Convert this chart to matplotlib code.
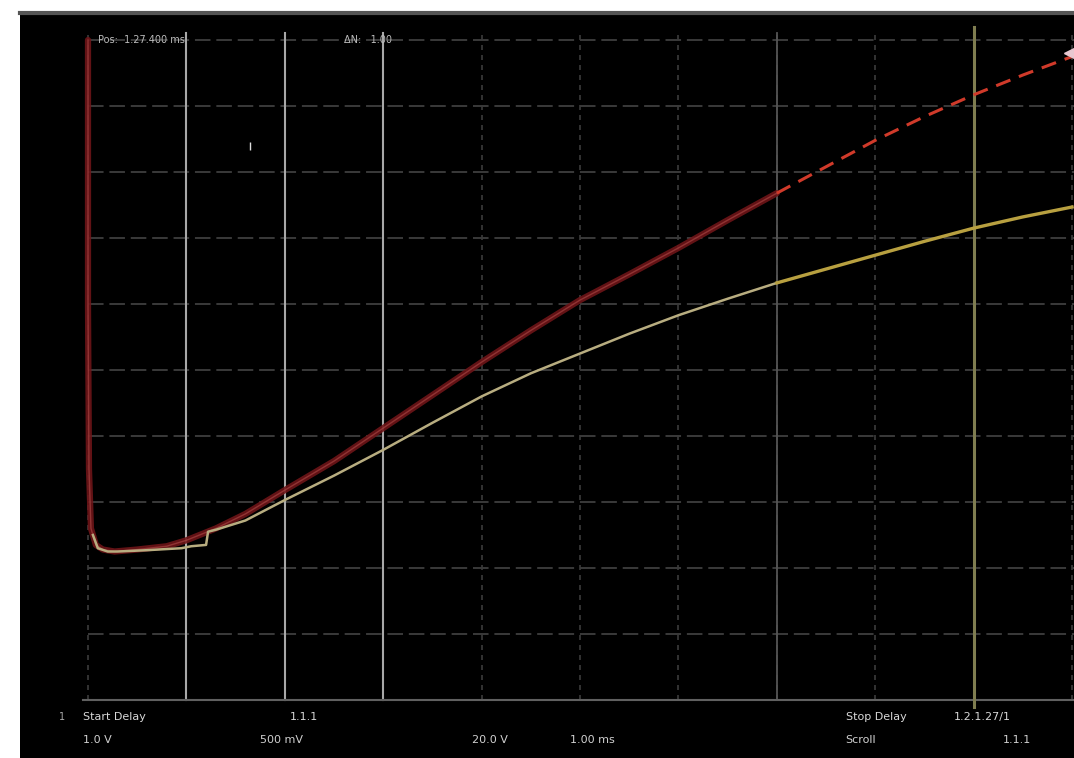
import numpy as np
import matplotlib
matplotlib.use("Agg")
import matplotlib.pyplot as plt

# screen grid, in divisions
grid_x = [0, 1, 2, 3, 4, 5, 6, 7, 8, 9, 10]
grid_y = [0, 1, 2, 3, 4, 5, 6, 7, 8, 9, 10]
bright_x = [1, 2, 3]

# CH1 (red) trace in divisions
ch1_x = [0.0, 0.0, 0.01, 0.03, 0.08, 0.15, 0.27, 0.5, 0.8, 1.0, 1.3, 1.6, 2.0, 2.5, 3.0, 3.5, 4.0, 4.5, 5.0, 5.5, 6.0, 6.5, 7.0]
ch1_y = [10.0, 6.0, 3.5, 2.6, 2.35, 2.28, 2.25, 2.28, 2.33, 2.42, 2.6, 2.82, 3.18, 3.62, 4.12, 4.62, 5.12, 5.6, 6.06, 6.45, 6.85, 7.27, 7.68]
ch1_dash_x = [7.0, 7.5, 8.0, 8.5, 9.0, 9.5, 10.0]
ch1_dash_y = [7.68, 8.08, 8.48, 8.84, 9.17, 9.47, 9.75]

# CH2 (yellow) trace
ch2_x = [0.05, 0.1, 0.2, 0.3, 0.6, 0.95, 1.05, 1.2, 1.22, 1.3, 1.6, 2.0, 2.5, 3.0, 3.5, 4.0, 4.5, 5.0, 5.5, 6.0, 6.5, 7.0]
ch2_y = [2.5, 2.3, 2.25, 2.25, 2.27, 2.3, 2.33, 2.35, 2.55, 2.58, 2.72, 3.03, 3.4, 3.79, 4.2, 4.6, 4.95, 5.25, 5.55, 5.83, 6.08, 6.32]
ch2_late_x = [7.0, 7.5, 8.0, 8.5, 9.0, 9.5, 10.0]
ch2_late_y = [6.32, 6.53, 6.74, 6.95, 7.15, 7.32, 7.47]

cursor_x = 9.0

top_labels = [("Pos:  1.27.400 ms", 0.1), ("ΔN:   1.00", 2.6)]
bottom_row1 = [("Start Delay", -0.05), ("1.1.1", 2.05), ("Stop Delay", 7.7), ("1.2.1.27/1", 8.8)]
bottom_row2 = [("1.0 V", -0.05), ("500 mV", 1.75), ("20.0 V", 3.9), ("1.00 ms", 4.9), ("Scroll", 7.7), ("1.1.1", 9.3)]

fig = plt.figure(figsize=(10.74, 7.58), dpi=100)
fig.patch.set_facecolor("white")
ax = fig.add_axes([20 / 1074, 0, 1054 / 1074, 745 / 758])
ax.set_facecolor("black")
ax.set_xlim(-0.691, 10.02)
ax.set_ylim(-0.879, 10.41)
ax.set_xticks([])
ax.set_yticks([])
for s in ax.spines.values():
    s.set_visible(False)
ax.spines["top"].set_visible(True)
ax.spines["top"].set_color("#555555")
ax.spines["top"].set_linewidth(3)

# grid
for gx in grid_x:
    ax.plot([gx, gx], [0, 10.1], color="#3c3c3c", lw=1.2, ls=(0, (3, 3)), zorder=1)
for gy in grid_y:
    ax.plot([0, 10.02], [gy, gy], color="#3a3a3a", lw=1.4, ls=(0, (8, 3)), zorder=1)
for gx in bright_x:
    ax.plot([gx, gx], [0, 10.1], color="#a8a8a8", lw=1.5, zorder=1)
ax.plot([7, 7], [0, 10.1], color="#555555", lw=1.3, zorder=1)
ax.plot([-0.05, 10.02], [0, 0], color="#606060", lw=1.5, zorder=1)

# cursor
ax.plot([cursor_x, cursor_x], [-0.1, 10.2], color="#7f7d50", lw=2.2, zorder=2)

# traces
ax.plot(ch1_x, ch1_y, color="#6e1518", lw=4.5, alpha=0.9, solid_capstyle="round", zorder=3)
ax.plot(ch1_x, ch1_y, color="#b04a48", lw=1.0, alpha=0.6, zorder=3)
ax.plot(ch1_dash_x, ch1_dash_y, color="#d03a2a", lw=2.2, ls=(0, (5, 3)), zorder=3)
ax.plot(ch2_x, ch2_y, color="#b8ad80", lw=1.8, zorder=4)
ax.plot(ch2_late_x, ch2_late_y, color="#b8a040", lw=2.4, zorder=4)

# trigger marker and small mark
ax.plot([9.98], [9.8], marker="<", color="#e8c8d0", ms=8, zorder=5)
ax.plot([1.65], [8.4], marker="|", color="#dddddd", ms=6, zorder=5)

for txt, x in top_labels:
    ax.text(x, 10.0, txt, color="#bbbbbb", fontsize=7, va="center", ha="left")
for txt, x in bottom_row1:
    ax.text(x, -0.26, txt, color="#d8d8d8", fontsize=8, va="center", ha="left")
for txt, x in bottom_row2:
    ax.text(x, -0.61, txt, color="#d0d0d0", fontsize=8, va="center", ha="left")
ax.text(-0.3, -0.26, "1", color="#aaaaaa", fontsize=7, va="center")

fig.savefig("out.png", dpi=100, facecolor="white")
